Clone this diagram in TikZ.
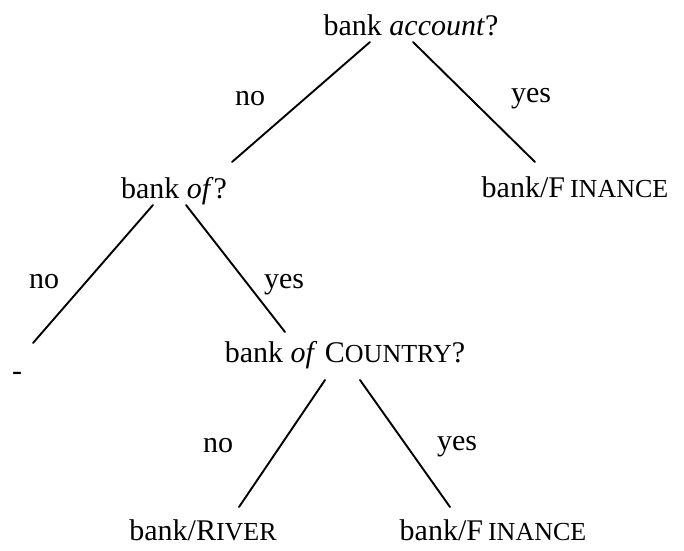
\documentclass[tikz,border=0pt]{standalone}
\usepackage{fontspec}
\setmainfont{Liberation Serif}
\usetikzlibrary{calc}
\newcommand{\fakesc}[1]{{\fontsize{26}{26}\selectfont #1}}
\begin{document}
\begin{tikzpicture}[x=1pt,y=-1pt,
  lab/.style={anchor=base,inner sep=0pt,font=\fontsize{30}{30}\selectfont},
  edge/.style={line width=1.9pt,line cap=round}]
\useasboundingbox (0,0) rectangle (684,550);
% tree nodes
\node[lab] (root) at (411,35) {bank \textit{account}?};
\node[lab] (fin1) at (575,197) {bank/F\,\fakesc{INANCE}};
\node[lab] (of) at (174,198) {bank \textit{of}?};
\node[lab] (dash) at (17,380) {-};
\node[lab] (country) at (345,362) {bank \textit{of} C\fakesc{OUNTRY}?};
\node[lab] (river) at (203,540) {bank/R\fakesc{IVER}};
\node[lab] (fin2) at (493,540) {bank/F\,\fakesc{INANCE}};
% edge labels
\node[lab] (no1) at (250,105) {no};
\node[lab] (yes1) at (531,102) {yes};
\node[lab] (no2) at (44,288) {no};
\node[lab] (yes2) at (284,288) {yes};
\node[lab] (no3) at (218,452) {no};
\node[lab] (yes3) at (457,450) {yes};
% edges
\draw[edge] ($(root.base)+(-41,7)$) -- ($(of.base)+(58,-36)$);
\draw[edge] ($(root.base)+(2,7)$) -- ($(fin1.base)+(-40,-35)$);
\draw[edge] ($(of.base)+(-21,7)$) -- ($(dash.base)+(16,-37)$);
\draw[edge] ($(of.base)+(12,7)$) -- ($(country.base)+(-60,-30)$);
\draw[edge] ($(country.base)+(-20,18)$) -- ($(river.base)+(36,-33)$);
\draw[edge] ($(country.base)+(15,18)$) -- ($(fin2.base)+(-43,-33)$);
\end{tikzpicture}
\end{document}
